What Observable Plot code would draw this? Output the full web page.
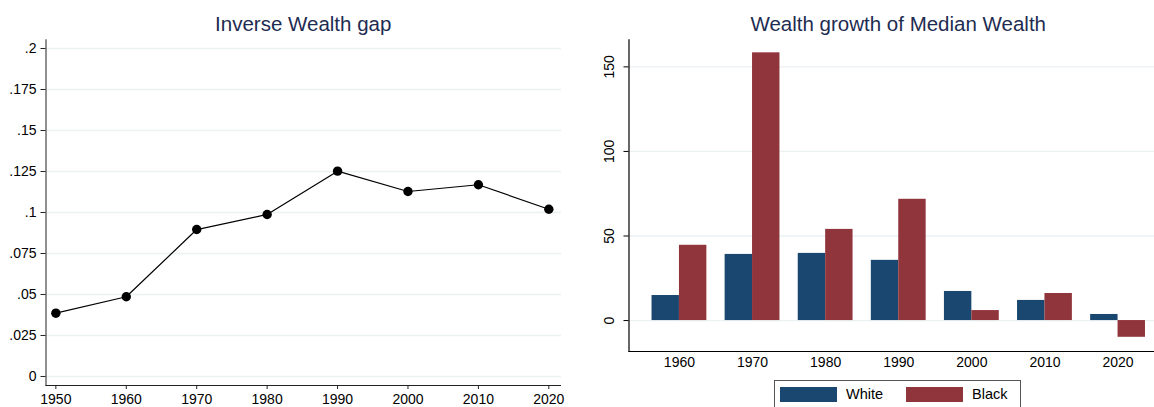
<!DOCTYPE html>
<html><head><meta charset="utf-8">
<script src="https://cdn.jsdelivr.net/npm/d3@7"></script>
<script src="https://cdn.jsdelivr.net/npm/@observablehq/plot@0.6"></script>
<style>
html,body{margin:0;padding:0;background:#fff;overflow:hidden;}
#wrap{position:relative;width:1154px;height:407px;font-family:"Liberation Sans",Arial,sans-serif;}
.title{position:absolute;top:11.6px;font-size:20.5px;line-height:24px;color:#1e2c52;text-align:center;white-space:nowrap;}
.chart{position:absolute;top:0;}
.chart svg{overflow:visible;}
#legend{position:absolute;left:774px;top:380px;width:247px;height:40px;border:1px solid #555;box-sizing:border-box;}
.sw{position:absolute;top:6.3px;width:56.7px;height:14.7px;}
.lt{position:absolute;top:5.2px;font-size:14.5px;line-height:17px;color:#000;white-space:nowrap;}
</style></head>
<body>
<div id="wrap">
  <div class="title" id="t1" style="left:45.5px;width:515.5px;"></div>
  <div class="title" id="t2" style="left:628.5px;width:539.5px;"></div>
  <div class="chart" id="c1" style="left:0px;"></div>
  <div class="chart" id="c2" style="left:580px;"></div>
  <div id="legend"></div>
</div>
<script>
// ---- data ----
const leftTitle = "Inverse Wealth gap";
const rightTitle = "Wealth growth of Median Wealth";
const years = [1950, 1960, 1970, 1980, 1990, 2000, 2010, 2020];
const inverseGap = [0.0386, 0.0486, 0.0896, 0.0988, 0.1252, 0.1128, 0.1169, 0.1020];
const leftYTicks = [0, 0.025, 0.05, 0.075, 0.1, 0.125, 0.15, 0.175, 0.2];
const leftYLabels = ["0", ".025", ".05", ".075", ".1", ".125", ".15", ".175", ".2"];
const decades = [1960, 1970, 1980, 1990, 2000, 2010, 2020];
const whiteGrowth = [14.8, 39.1, 39.7, 35.6, 17.2, 11.9, 3.6];
const blackGrowth = [44.5, 158.3, 53.9, 71.7, 5.9, 16.0, -9.9];
const rightYTicks = [0, 50, 100, 150];
const groups = ["White", "Black"];
const groupColors = ["#1a476f", "#90353b"];

// ---- styling ----
const font = '"Liberation Sans", Arial, sans-serif';
const gridColor = "#eaf2f3";
const axisColor = "#222";
const tickFont = 14;

document.getElementById("t1").textContent = leftTitle;
document.getElementById("t2").textContent = rightTitle;

// ---- left chart ----
const lineData = years.map((y, i) => ({year: y, value: inverseGap[i]}));
const lxDomain = [1948.6, 2021.8];
const lyDomain = [-0.0055, 0.2053];
const left = Plot.plot({
  width: 580, height: 407,
  marginLeft: 45.5, marginRight: 19, marginTop: 39.3, marginBottom: 22,
  style: {fontFamily: font, fontSize: "14px", color: "#000", background: "transparent"},
  x: {domain: lxDomain, axis: null},
  y: {domain: lyDomain, axis: null},
  marks: [
    Plot.ruleY(leftYTicks, {stroke: gridColor, strokeWidth: 1.3}),
    Plot.axisY(leftYTicks, {tickSize: 5, tickPadding: 4.5, fontSize: tickFont, tickFormat: (d, i) => leftYLabels[i], stroke: axisColor, fill: "#000", label: null}),
    Plot.axisX(years, {tickSize: 4, tickPadding: 5, fontSize: tickFont, tickFormat: d => String(d), stroke: axisColor, fill: "#000", label: null}),
    Plot.frame({anchor: "left", stroke: axisColor, strokeWidth: 1}),
    Plot.ruleY([lyDomain[0]], {stroke: axisColor, strokeWidth: 1}),
    Plot.line(lineData, {x: "year", y: "value", stroke: "#000", strokeWidth: 1.2}),
    Plot.dot(lineData, {x: "year", y: "value", r: 4.7, fill: "#000", stroke: "none"})
  ]
});
document.getElementById("c1").appendChild(left);

// ---- right chart ----
const whiteData = decades.map((d, i) => ({decade: d, value: whiteGrowth[i]}));
const blackData = decades.map((d, i) => ({decade: d, value: blackGrowth[i]}));
const rxRange = [48.5, 588];
const padIn = 0.25, padOut = 0.315;
const step = (rxRange[1] - rxRange[0]) / (decades.length - padIn + 2 * padOut);
const half = step * (1 - padIn) / 2;
const ryDomain = [-18.3, 166.0];
const right = Plot.plot({
  width: 574, height: 407,
  marginLeft: 48.5, marginRight: 0, marginTop: 39.3, marginBottom: 56,
  style: {fontFamily: font, fontSize: "14px", color: "#000", background: "transparent"},
  x: {type: "band", domain: decades, range: rxRange, paddingInner: padIn, paddingOuter: padOut, round: false, axis: null},
  y: {domain: ryDomain, axis: null},
  marks: [
    Plot.ruleY(rightYTicks, {stroke: gridColor, strokeWidth: 1.3}),
    Plot.barY(whiteData, {x: "decade", y: "value", fill: groupColors[0], insetRight: half}),
    Plot.barY(blackData, {x: "decade", y: "value", fill: groupColors[1], insetLeft: half}),
    Plot.axisY(rightYTicks, {tickSize: 5, tickFormat: () => "", stroke: "#000", label: null}),
    Plot.text(rightYTicks, {y: d => d, text: d => String(d), frameAnchor: "left", dx: -19.5, rotate: -90, textAnchor: "middle", lineAnchor: "middle", fontSize: tickFont, fill: "#000"}),
    Plot.axisX(decades, {tickSize: 0, tickPadding: 6, fontSize: tickFont, tickFormat: d => String(d), fill: "#000", label: null}),
    Plot.frame({anchor: "left", stroke: "#000", strokeWidth: 1.2}),
    Plot.ruleY([ryDomain[0]], {stroke: "#000", strokeWidth: 1.2})
  ]
});
document.getElementById("c2").appendChild(right);

// ---- legend ----
const lg = document.getElementById("legend");
const swLeft = [5, 131];
const txtLeft = [71, 197];
groups.forEach((g, i) => {
  const s = document.createElement("div");
  s.className = "sw"; s.style.left = swLeft[i] + "px"; s.style.background = groupColors[i];
  lg.appendChild(s);
  const t = document.createElement("div");
  t.className = "lt"; t.style.left = txtLeft[i] + "px"; t.textContent = g;
  lg.appendChild(t);
});
</script>
</body></html>
